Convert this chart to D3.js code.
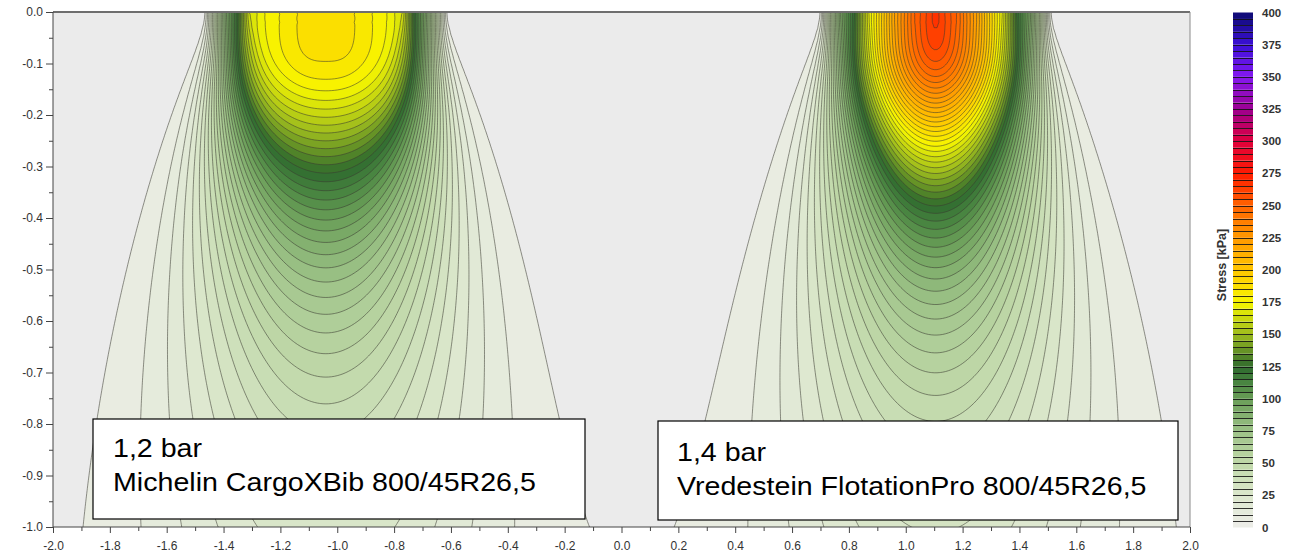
<!DOCTYPE html>
<html><head><meta charset="utf-8">
<script src="https://cdn.jsdelivr.net/npm/d3@7"></script>
<style>
body{margin:0;background:#fff;}
text{font-family:Arial,"Liberation Sans",sans-serif;}
</style>
</head><body>
<svg id="c" width="1302" height="555"></svg>
<script>
// ---------------- data ----------------
const xTickValues = [-2.0,-1.8,-1.6,-1.4,-1.2,-1.0,-0.8,-0.6,-0.4,-0.2,0.0,0.2,0.4,0.6,0.8,1.0,1.2,1.4,1.6,1.8,2.0];
const xMinorTicks = [-1.9,-1.7,-1.5,-1.3,-1.1,-0.9,-0.7,-0.5,-0.3,-0.1,0.1,0.3,0.5,0.7,0.9,1.1,1.3,1.5,1.7,1.9];
const yTickValues = [0.0,-0.1,-0.2,-0.3,-0.4,-0.5,-0.6,-0.7,-0.8,-0.9,-1.0];
const yMinorTicks = [-0.05,-0.15,-0.25,-0.35,-0.45,-0.55,-0.65,-0.75,-0.85,-0.95];
const colorbarTicks = [0,25,50,75,100,125,150,175,200,225,250,275,300,325,350,375,400];
const stressLevels = d3.range(5, 400, 5);          // contour levels, kPa
const colorDomain = [0, 25, 50, 75, 100, 112, 125, 150, 175, 200, 225, 250, 275, 300, 325, 350, 375, 400];
const colorRange  = ["#eeeeea","#dce7cd","#c0d8a9","#9dc388","#6a9e58","#4a8642","#2f6b2e","#9cbb1e","#f7f700","#ffc600","#ff9900","#ff6400","#ff1c00","#e0003c","#9c0090","#8518f0","#3c10d8","#0c0a70"];

const leftTyreX      = [-1.47,-1.43,-1.39,-1.35,-1.31,-1.25,-1.17,-1.10,-1.04,-0.98,-0.91,-0.83,-0.77,-0.73,-0.69,-0.65,-0.61];
const leftTyreStress = [0, 45, 90, 125, 165, 176, 183, 188, 186.5, 188, 183, 176, 165, 125, 90, 45, 0];
const rightTyreX      = [0.695,0.735,0.775,0.82,0.87,0.96,1.03,1.105,1.18,1.25,1.34,1.39,1.435,1.475,1.515];
const rightTyreStress = [0, 50, 95, 125, 170, 220, 250, 268, 250, 220, 170, 125, 95, 50, 0];
const contactLength = [0.29, 0.265];  // m, along driving direction
const concentrationFactor = 6;        // Froehlich xi (even)

const boxLines = [["1,2 bar","Michelin CargoXBib 800/45R26,5"],["1,4 bar","Vredestein FlotationPro 800/45R26,5"]];

// ---------------- layout ----------------
const svg = d3.select("#c");
const P = {left:53, right:1190, top:12, bottom:527};
const x = d3.scaleLinear().domain([-2,2]).range([P.left,P.right]);
const y = d3.scaleLinear().domain([0,-1]).range([P.top,P.bottom]);
const color = d3.scaleLinear().domain(colorDomain).range(colorRange).interpolate(d3.interpolateRgb).clamp(true);

// ---------------- stress field (Froehlich point-load integration) ----------------
const GX = 0.01, GZ = 0.005;
const nx = Math.round(4/GX)+1, nz = Math.round(1/GZ)+1;
const tyres = [
  {x:leftTyreX, p:leftTyreStress, L:contactLength[0]},
  {x:rightTyreX, p:rightTyreStress, L:contactLength[1]}
];
function sources(t, h){
  const f = d3.scaleLinear().domain(t.x).range(t.p);
  const a = t.x[0], b = t.x[t.x.length-1];
  const n = Math.round((b-a)/h), hh = (b-a)/n, out = [];
  for (let k=0;k<n;k++){ const s = a+(k+0.5)*hh; out.push(s, f(s)*hh); }
  return out;
}
tyres.forEach(t => {
  t.fine = sources(t, 0.0025);
  t.coarse = sources(t, 0.01);
  t.f = d3.scaleLinear().domain(t.x).range(t.p).clamp(true);
});
const xi = concentrationFactor;
const nPow = (xi+2)/2;
function Iy(a2, h){
  const a = Math.sqrt(a2), S = a2 + h*h;
  let I = Math.atan(h/a)/a, Sp = 1;
  for (let n=2;n<=nPow;n++){
    Sp *= S;
    I = h/(2*(n-1)*a2*Sp) + (2*n-3)/(2*(n-1)*a2)*I;
  }
  return I;
}
const values = new Float64Array(nx*nz);
for (let j=0;j<nz;j++){
  const z = j*GZ;
  for (let i=0;i<nx;i++){
    const x0 = -2 + i*GX;
    let s = 0;
    if (j===0){
      tyres.forEach(t => { if (x0>=t.x[0] && x0<=t.x[t.x.length-1]) s += t.f(x0); });
    } else {
      const z2 = z*z;
      for (const t of tyres){
        const src = z < 0.02 ? t.fine : t.coarse;
        const hL = t.L/2;
        for (let k=0;k<src.length;k+=2){
          const dx = x0-src[k];
          s += src[k+1] * 2*Iy(dx*dx + z2, hL);
        }
      }
      s *= xi/(2*Math.PI) * Math.pow(z, xi);
    }
    values[j*nx+i] = s;
  }
}

// ---------------- plot ----------------
svg.append("defs").append("clipPath").attr("id","clip")
  .append("rect").attr("x",P.left).attr("y",P.top).attr("width",P.right-P.left).attr("height",P.bottom-P.top);
svg.append("rect").attr("x",P.left).attr("y",P.top).attr("width",P.right-P.left).attr("height",P.bottom-P.top).attr("fill","#ebebeb");

const contours = d3.contours().size([nx,nz]).thresholds(stressLevels)(values);
const proj = d3.geoTransform({point(px,py){ this.stream.point(x(-2+(px-0.5)*GX), y(-(py-0.5)*GZ)); }});
const path = d3.geoPath(proj);
const gc = svg.append("g").attr("clip-path","url(#clip)");
gc.selectAll("path.f").data(contours).join("path").attr("class","f")
  .attr("d",path).attr("fill",d=>color(d.value+2.5)).attr("stroke","none");
gc.selectAll("path.l").data(contours).join("path").attr("class","l")
  .attr("d",path).attr("fill","none").attr("stroke","#3a3a30").attr("stroke-opacity",0.62).attr("stroke-width",0.9);

// borders
svg.append("line").attr("x1",P.left).attr("x2",P.right).attr("y1",P.top).attr("y2",P.top).attr("stroke","#6e6e6e").attr("stroke-width",2);
svg.append("line").attr("x1",P.right).attr("x2",P.right).attr("y1",P.top).attr("y2",P.bottom).attr("stroke","#8a8a8a").attr("stroke-width",1);

// axes
function styleAxis(g){ g.select(".domain").remove(); g.selectAll("line").attr("stroke","#444"); g.selectAll("text").attr("fill","#333").style("font-size","12px"); }
svg.append("g").attr("transform",`translate(${P.left},0)`)
  .call(d3.axisLeft(y).tickValues(yTickValues).tickFormat(d=>d.toFixed(1)).tickSize(7).tickPadding(3)).call(styleAxis);
svg.append("g").attr("transform",`translate(${P.left},0)`)
  .call(d3.axisLeft(y).tickValues(yMinorTicks).tickFormat("").tickSize(4)).call(styleAxis);
svg.append("g").attr("transform",`translate(0,${P.bottom})`)
  .call(d3.axisBottom(x).tickValues(xTickValues).tickFormat(d=>d.toFixed(1)).tickSize(6).tickPadding(8)).call(styleAxis);
svg.append("g").attr("transform",`translate(0,${P.bottom})`)
  .call(d3.axisBottom(x).tickValues(xMinorTicks).tickFormat("").tickSize(4)).call(styleAxis);
svg.append("line").attr("x1",P.left).attr("x2",P.left).attr("y1",P.top).attr("y2",P.bottom).attr("stroke","#444");
svg.append("line").attr("x1",P.left).attr("x2",P.right).attr("y1",P.bottom).attr("y2",P.bottom).attr("stroke","#444");

// text boxes
const boxes = [{x:93,y:419,w:492,h:100,tx:113,b1:457,b2:491},{x:658,y:421,w:520,h:99,tx:677,b1:461,b2:495}];
boxes.forEach((b,k)=>{
  svg.append("rect").attr("x",b.x).attr("y",b.y).attr("width",b.w).attr("height",b.h)
    .attr("fill","#fff").attr("stroke","#000").attr("stroke-width",1.2);
  [[boxLines[k][0],b.b1],[boxLines[k][1],b.b2]].forEach(([t,yy])=>{
    svg.append("text").attr("transform",`translate(${b.tx},${yy}) scale(1.1,1)`)
      .style("font-size","26px").attr("fill","#000").text(t);
  });
});

// colorbar
const cb = d3.scaleLinear().domain([0,400]).range([527.5,12.5]);
const cbx = 1233, cbw = 20;
const bands = [0].concat(stressLevels);
svg.append("g").selectAll("rect").data(bands).join("rect")
  .attr("x",cbx).attr("width",cbw).attr("y",d=>cb(d+5)).attr("height",d=>cb(d)-cb(d+5))
  .attr("fill",d=>color(d+2.5));
svg.append("g").selectAll("line").data(stressLevels).join("line")
  .attr("x1",cbx).attr("x2",cbx+cbw).attr("y1",d=>Math.round(cb(d))+0.5).attr("y2",d=>Math.round(cb(d))+0.5)
  .attr("stroke","#111").attr("stroke-width",1).attr("stroke-opacity",0.85);
svg.append("g").selectAll("text").data(colorbarTicks).join("text")
  .attr("x",1262).attr("y",d=>cb(d)).attr("dy","0.35em")
  .style("font-size","11.5px").style("font-weight","bold").attr("fill","#333").text(d=>d);
svg.append("text").attr("transform","translate(1226,265) rotate(-90)").attr("text-anchor","middle")
  .style("font-size","12.5px").style("font-weight","bold").attr("fill","#333").text("Stress [kPa]");
</script>
</body></html>
